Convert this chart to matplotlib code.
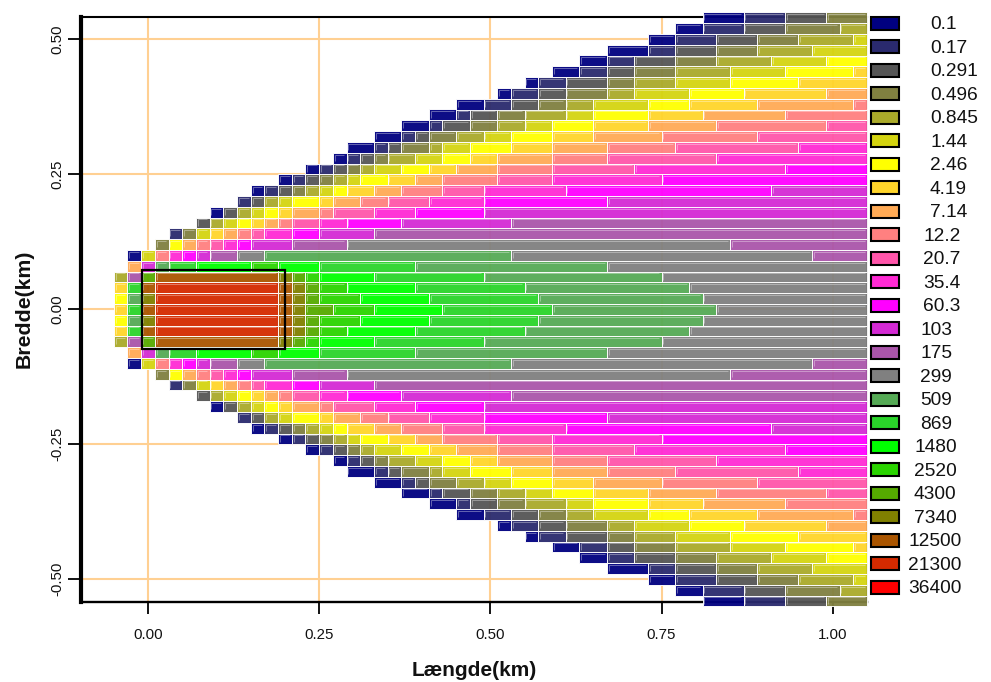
import matplotlib
matplotlib.use("Agg")
import matplotlib.pyplot as plt
from matplotlib.patches import Rectangle

plt.rcParams['font.family'] = ['Liberation Sans', 'DejaVu Sans']

levels = ['0.1', '0.17', '0.291', '0.496', '0.845', '1.44', '2.46', '4.19', '7.14',
          '12.2', '20.7', '35.4', '60.3', '103', '175', '299', '509', '869',
          '1480', '2520', '4300', '7340', '12500', '21300', '36400']
level_colors = ['#000080', '#2a2a6e', '#555555', '#808040', '#aaaa2a', '#d4d410', '#ffff00',
                '#ffd52a', '#ffaa55', '#ff8080', '#ff55aa', '#ff2ad4', '#ff00ff',
                '#d42ad4', '#aa55aa', '#808080', '#55aa55', '#2ad42a', '#00ff00',
                '#2ad400', '#55aa00', '#808000', '#aa5500', '#d42a00', '#ff0000']

cell_km = 0.02          # receptor grid spacing in both directions
last_cell = 52
x_ticks = [0.0, 0.25, 0.5, 0.75, 1.0]
y_ticks = [-0.5, -0.25, 0.0, 0.25, 0.5]
source_x = [-0.009, 0.2]
source_y = [-0.0735, 0.0735]

# each row: (first grid cell along the plume, concentration class starting there)
# index = lateral grid row away from the axis; lower half mirrors the upper half
row_00 = [(-2,7),(-1,17),(0,22),(1,23),(10,22),(11,21),(12,20),(14,19),(17,18),(22,17),(30,16),(42,15)]
row_01 = [(-2,6),(-1,16),(0,21),(1,23),(10,22),(11,21),(12,20),(13,19),(16,18),(21,17),(29,16),(41,15)]
row_02 = [(-2,7),(-1,17),(0,22),(1,23),(10,22),(11,21),(12,20),(13,19),(15,18),(20,17),(28,16),(40,15)]
row_03 = [(-2,4),(-1,14),(0,20),(1,22),(10,21),(11,20),(12,19),(13,18),(17,17),(25,16),(38,15)]
row_04 = [(-1,8),(0,13),(1,16),(2,17),(4,18),(8,19),(10,18),(13,17),(20,16),(34,15)]
row_05 = [(-1,0),(0,5),(1,9),(2,11),(3,12),(4,13),(5,14),(7,15),(9,16),(27,15),(49,14)]
row_06 = [(1,3),(2,6),(3,8),(4,9),(5,10),(6,11),(7,12),(8,13),(11,14),(15,15),(43,14)]
row_07 = [(2,1),(3,3),(4,5),(5,7),(6,8),(7,9),(8,10),(9,11),(11,12),(13,13),(17,14)]
row_08 = [(4,2),(5,4),(6,5),(7,6),(8,7),(9,8),(10,9),(11,10),(13,11),(15,12),(19,13),(27,14)]
row_09 = [(5,0),(6,2),(7,4),(8,5),(9,6),(10,7),(11,8),(13,9),(14,10),(17,11),(20,12),(25,13)]
row_10 = [(7,1),(8,2),(9,4),(10,5),(11,6),(13,7),(14,8),(16,9),(18,10),(21,11),(25,12),(34,13)]
row_11 = [(8,0),(9,1),(10,2),(11,3),(12,4),(13,5),(14,6),(15,7),(17,8),(19,9),(22,10),(25,11),(31,12),(46,13)]
row_12 = [(10,0),(11,1),(12,2),(13,3),(14,4),(15,5),(16,6),(18,7),(20,8),(22,9),(26,10),(30,11),(38,12)]
row_13 = [(12,0),(13,1),(14,2),(15,3),(16,4),(17,5),(19,6),(21,7),(23,8),(26,9),(30,10),(36,11),(47,12)]
row_14 = [(14,0),(15,1),(16,2),(17,3),(18,4),(20,5),(22,6),(24,7),(26,8),(30,9),(34,10),(42,11)]
row_15 = [(15,0),(17,1),(18,2),(19,3),(21,4),(22,5),(24,6),(27,7),(30,8),(34,9),(39,10),(48,11)]
row_16 = [(17,0),(19,1),(20,2),(21,3),(23,4),(25,5),(27,6),(30,7),(33,8),(38,9),(45,10)]
row_17 = [(19,0),(21,1),(22,2),(24,3),(26,4),(28,5),(30,6),(33,7),(37,8),(42,9),(50,10)]
row_18 = [(21,0),(23,1),(24,2),(26,3),(28,4),(31,5),(33,6),(37,7),(41,8),(47,9)]
row_19 = [(23,0),(25,1),(27,2),(29,3),(31,4),(33,5),(37,6),(40,7),(45,8),(52,9)]
row_20 = [(26,0),(27,1),(29,2),(31,3),(34,4),(36,5),(40,6),(44,7),(50,8)]
row_21 = [(28,0),(29,1),(31,2),(34,3),(36,4),(39,5),(43,6),(48,7)]
row_22 = [(30,0),(32,1),(34,2),(36,3),(39,4),(43,5),(47,6),(52,7)]
row_23 = [(32,0),(34,1),(36,2),(39,3),(42,4),(46,5),(50,6)]
row_24 = [(34,0),(37,1),(39,2),(42,3),(45,4),(49,5)]
row_25 = [(37,0),(39,1),(42,2),(45,3),(48,4),(52,5)]
row_26 = [(39,0),(41,1),(44,2),(47,3),(51,4)]
row_27 = [(41,0),(44,1),(47,2),(50,3)]
rows = [row_00, row_01, row_02, row_03, row_04, row_05, row_06, row_07, row_08, row_09,
        row_10, row_11, row_12, row_13, row_14, row_15, row_16, row_17, row_18, row_19,
        row_20, row_21, row_22, row_23, row_24, row_25, row_26, row_27]

W, H = 991, 682
fig = plt.figure(figsize=(W / 100, H / 100), dpi=100, facecolor='white')
L, R, T, B = 81.0, 867.0, 17.0, 602.0
ax = fig.add_axes([L / W, 1 - B / H, (R - L) / W, (B - T) / H])
ax.set_xlim((L - 148.0) / 684.7, (R - 148.0) / 684.7)
ax.set_ylim(-(B - 309.3) / 540.0, (309.3 - T) / 540.0)
px_x, px_y = 1 / 684.7, 1 / 540.0

ax.set_xticks(x_ticks)
ax.set_yticks(y_ticks)
ax.set_xticklabels([f'{v:.2f}' for v in x_ticks], fontsize=10.8)
ax.set_yticklabels([f'{v:.2f}' for v in y_ticks], fontsize=10.8, rotation=90, va='center')
ax.tick_params(axis='x', length=8.6, width=1.3, pad=10, color='black', colors='#111111')
ax.tick_params(axis='y', length=9.2, width=1.3, pad=3, color='black', colors='#111111')
ax.grid(True, color='#ffd092', lw=1.5, zorder=1)
ax.set_axisbelow(True)
for side, lw in (('left', 3.0), ('bottom', 1.7), ('top', 1.5), ('right', 1.1)):
    ax.spines[side].set_linewidth(lw)
    ax.spines[side].set_zorder(1.5)

for r, row in enumerate(rows):
    for sign in ((1,) if r == 0 else (1, -1)):
        y = sign * r * cell_km
        for k, (c0, band) in enumerate(row):
            c1 = row[k + 1][0] if k + 1 < len(row) else last_cell + 1
            x0 = (c0 - 0.5) * cell_km
            x1 = (c1 - 0.5) * cell_km
            ax.barh(y, x1 - x0, left=x0, height=cell_km, color=level_colors[band], alpha=0.95,
                    edgecolor=(1, 1, 1, 0.18), linewidth=0.7, clip_on=False, zorder=3)
            top = y + cell_km / 2 - 1.8 * px_y
            xl = x0 + 1.8 * px_x
            ax.plot([xl, xl, x1 - 2.2 * px_x], [y - cell_km / 2 + 2.8 * px_y, top, top],
                    color='white', alpha=0.42, lw=0.6, clip_on=False, zorder=4,
                    solid_joinstyle='miter', solid_capstyle='butt')

ax.add_patch(Rectangle((source_x[0], source_y[0]), source_x[1] - source_x[0],
                       source_y[1] - source_y[0], fill=False, edgecolor='black',
                       lw=1.6, zorder=6))

fig.text(474.5 / W, 1 - 670 / H, 'Længde(km)', fontsize=15, fontweight='bold',
         ha='center', va='center', color='#111111')
fig.text(24 / W, 1 - 309 / H, 'Bredde(km)', fontsize=15.3, fontweight='bold',
         rotation=90, ha='center', va='center', color='#111111')

def label_left(text):
    v = float(text)
    if v < 10:
        return 930
    if v < 100:
        return 923.5
    if v < 1000:
        return 920
    if v < 10000:
        return 914
    return 908

for i, (text, col) in enumerate(zip(levels, level_colors)):
    yc = 23.3 + i * 23.5
    fig.add_artist(Rectangle((870.5 / W, 1 - (yc + 6.5) / H), 28.5 / W, 13 / H,
                             facecolor=col, edgecolor='black', lw=1.5,
                             transform=fig.transFigure))
    fig.text(label_left(text) / W, 1 - (yc + 1.5) / H, text, fontsize=13.8,
             ha='left', va='center', color='#111111')

fig.savefig('out.png', dpi=100)
